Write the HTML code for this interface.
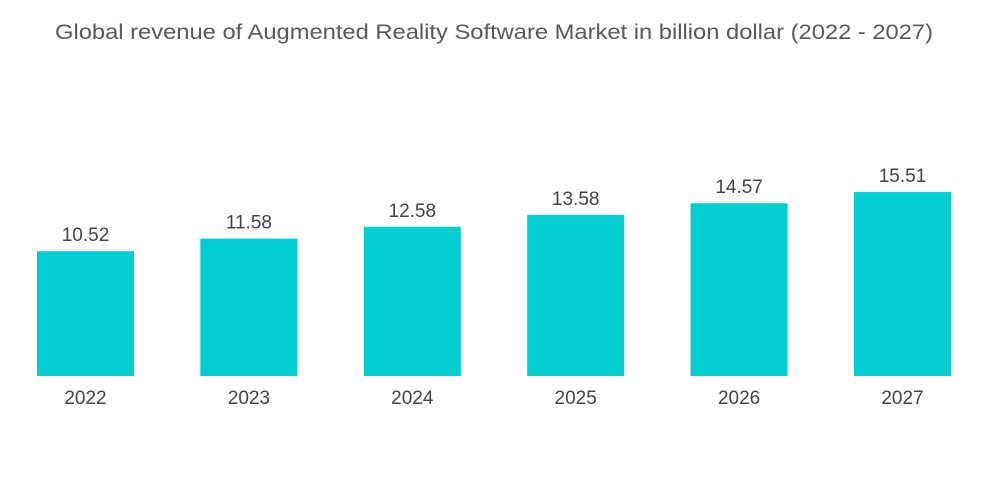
<!DOCTYPE html>
<html><head><meta charset="utf-8"><style>
html,body{margin:0;padding:0;background:#fff;width:1000px;height:504px;overflow:hidden;font-family:"Liberation Sans",sans-serif;}
</style></head><body>
<svg id="chart" width="1000" height="504" xmlns="http://www.w3.org/2000/svg">
<text x="55" y="39" textLength="878" lengthAdjust="spacingAndGlyphs" font-size="21" fill="#595959" font-family="Liberation Sans, sans-serif">Global revenue of Augmented Reality Software Market in billion dollar (2022 - 2027)</text>
<g id="bars"></g>
</svg>
<script>
const categories = ["2022","2023","2024","2025","2026","2027"];
const values = [10.52, 11.58, 12.58, 13.58, 14.57, 15.51];
const valueLabels = ["10.52","11.58","12.58","13.58","14.57","15.51"];
const baseY = 376, pxPerUnit = 11.86, firstX = 85.5, step = 163.4, barW = 97;
function xScale(i){ return firstX + i*step; }
function yScale(v){ return baseY - v*pxPerUnit; }
const ns = "http://www.w3.org/2000/svg";
const g = document.getElementById('bars');
categories.forEach((c,i)=>{
  const cx = xScale(i), y = yScale(values[i]);
  const r = document.createElementNS(ns,'rect');
  
  
  r.setAttribute('x', cx - barW/2); r.setAttribute('y', y);
  r.setAttribute('width', barW); r.setAttribute('height', baseY - y);
  r.setAttribute('fill', '#00CED1');
  g.appendChild(r);
  const t = document.createElementNS(ns,'text');
  
  
  t.setAttribute('x', cx); t.setAttribute('y', y - 10);
  t.setAttribute('text-anchor','middle'); t.setAttribute('font-size','19'); t.setAttribute('fill','#444');
  t.textContent = valueLabels[i];
  g.appendChild(t);
  const l = document.createElementNS(ns,'text');
  
  
  l.setAttribute('x', cx); l.setAttribute('y', 404);
  l.setAttribute('text-anchor','middle'); l.setAttribute('font-size','19'); l.setAttribute('fill','#444');
  l.textContent = c;
  g.appendChild(l);
});
</script>
</body></html>
